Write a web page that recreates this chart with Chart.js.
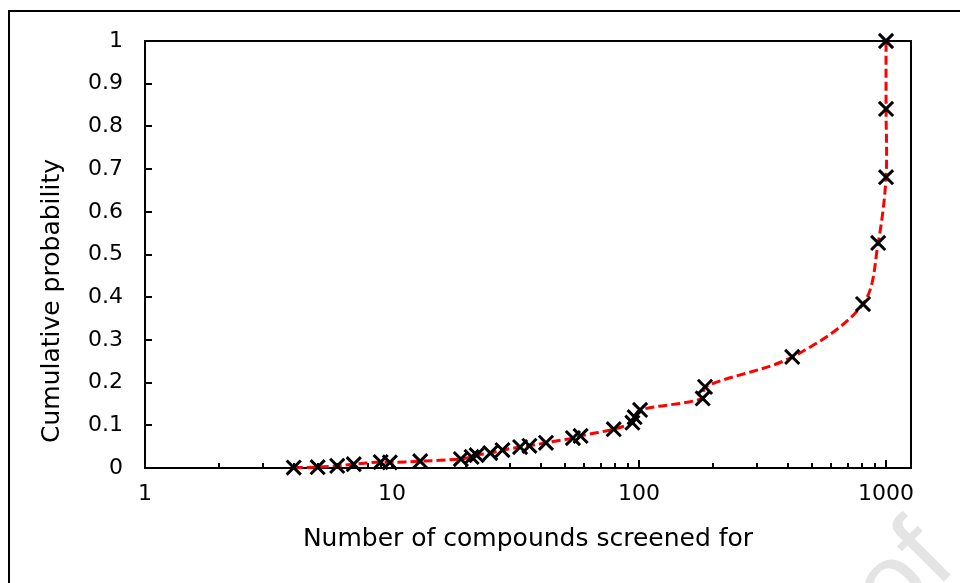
<!DOCTYPE html>
<html lang="en">
<head>
    <meta charset="UTF-8">
    <title>Cumulative probability</title>
    <script src="https://cdn.jsdelivr.net/npm/chart.js"></script>
    <style>
        body {
            margin: 0;
            background: #ffffff;
            overflow: hidden;
        }
        .wrap {
            position: relative;
            width: 960px;
            height: 583px;
            overflow: hidden;
        }
        .frame {
            position: absolute;
            left: 8px;
            top: 10px;
            width: 1000px;
            height: 700px;
            border: 2px solid #000;
        }
        .mark {
            position: absolute;
            left: 828px;
            top: 566px;
            font: 110px 'Liberation Sans', Arial, sans-serif;
            line-height: 1;
            color: #e4e4e4;
            transform-origin: 0 0;
            transform: rotate(-45deg);
        }
        canvas {
            position: absolute;
            left: 0;
            top: 0;
        }
    </style>
</head>
<body>
    <div class="wrap">
        <div class="frame"></div>
        <div class="mark">of</div>
        <canvas id="cdf" width="960" height="583"></canvas>
    </div>

    <script>
        // values
        const compounds = [4, 5, 6, 7, 9, 9.8, 13, 19, 21, 22, 25, 28, 33, 36, 42, 54, 58, 79, 94, 96, 101, 181, 185, 417, 807, 929, 1000, 1000, 1000];
        const cumProb = [0.001, 0.002, 0.005, 0.009, 0.014, 0.013, 0.016, 0.021, 0.026, 0.030, 0.035, 0.042, 0.049, 0.052, 0.059, 0.070, 0.075, 0.091, 0.106, 0.119, 0.136, 0.163, 0.190, 0.260, 0.384, 0.527, 0.681, 0.841, 1.0];

        const xTicks = [1, 10, 100, 1000];
        const xTickLabels = ['1', '10', '100', '1000'];
        const yTicks = [0, 0.1, 0.2, 0.3, 0.4, 0.5, 0.6, 0.7, 0.8, 0.9, 1];
        const yTickLabels = ['0', '0.1', '0.2', '0.3', '0.4', '0.5', '0.6', '0.7', '0.8', '0.9', '1'];
        const yTitle = 'Cumulative probability';

        // minor log ticks 2..9 in each decade
        let xMinor = [];
        [1, 10, 100].forEach(d => {
            for (let k = 2; k <= 9; k++) xMinor.push(d * k);
        });

        const font = "'DejaVu Sans', 'Liberation Sans', sans-serif";

        // plot frame + inward tick marks, drawn under the markers
        const axisBox = {
            id: 'axisBox',
            beforeDatasetsDraw(chart) {
                const { ctx, chartArea: a, scales: { x, y } } = chart;
                ctx.save();
                ctx.strokeStyle = '#000';
                ctx.lineWidth = 2;
                ctx.strokeRect(a.left, a.top, a.right - a.left, a.bottom - a.top);
                ctx.beginPath();
                xTicks.forEach(v => {
                    let px = Math.round(x.getPixelForValue(v));
                    ctx.moveTo(px, a.bottom);
                    ctx.lineTo(px, a.bottom - 8);
                });
                xMinor.forEach(v => {
                    let px = Math.round(x.getPixelForValue(v));
                    ctx.moveTo(px, a.bottom);
                    ctx.lineTo(px, a.bottom - 5);
                });
                yTicks.forEach(v => {
                    let py = Math.round(y.getPixelForValue(v));
                    ctx.moveTo(a.left, py);
                    ctx.lineTo(a.left + 7, py);
                });
                ctx.stroke();
                ctx.restore();
            },
            // y title sits a bit below the middle of the axis in the original
            afterDraw(chart) {
                const ctx = chart.ctx;
                ctx.save();
                ctx.translate(52, 301);
                ctx.rotate(-Math.PI / 2);
                ctx.fillStyle = '#000';
                ctx.font = "25px " + font;
                ctx.textAlign = 'center';
                ctx.textBaseline = 'middle';
                ctx.fillText(yTitle, 0, 0);
                ctx.restore();
            }
        };

        new Chart(document.getElementById('cdf'), {
            type: 'scatter',
            data: {
                datasets: [{
                    data: compounds.map((c, i) => ({ x: c, y: cumProb[i] })),
                    showLine: true,
                    borderColor: '#ff0000',
                    borderWidth: 3,
                    borderDash: [9, 4],
                    tension: 0.33,
                    pointStyle: 'crossRot',
                    pointRadius: 10,
                    pointHoverRadius: 10,
                    pointBorderColor: '#000',
                    pointBackgroundColor: '#000',
                    pointBorderWidth: 3,
                    clip: false
                }]
            },
            options: {
                responsive: false,
                animation: false,
                devicePixelRatio: 1,
                layout: { padding: { top: 41, right: 49, left: 0, bottom: 0 } },
                plugins: {
                    legend: { display: false },
                    tooltip: { enabled: false }
                },
                scales: {
                    x: {
                        type: 'logarithmic',
                        min: 1,
                        max: 1262,
                        afterBuildTicks: s => { s.ticks = xTicks.map(v => ({ value: v })); },
                        afterFit: s => { s.height = 115; },
                        grid: { display: false, drawTicks: false },
                        border: { display: false },
                        ticks: {
                            autoSkip: false,
                            maxRotation: 0,
                            padding: 13,
                            color: '#000',
                            font: { family: font, size: 22 },
                            callback: (v, i) => xTickLabels[i]
                        },
                        title: {
                            display: true,
                            text: 'Number of compounds screened for',
                            color: '#000',
                            font: { family: font, size: 25 },
                            padding: { top: 0, bottom: 29 }
                        }
                    },
                    y: {
                        min: 0,
                        max: 1,
                        afterBuildTicks: s => { s.ticks = yTicks.map(v => ({ value: v })); },
                        afterFit: s => { s.width = 145; },
                        grid: { display: false, drawTicks: false },
                        border: { display: false },
                        ticks: {
                            padding: 22,
                            color: '#000',
                            font: { family: font, size: 22 },
                            callback: (v, i) => yTickLabels[i]
                        }
                    }
                }
            },
            plugins: [axisBox]
        });
    </script>
</body>
</html>
